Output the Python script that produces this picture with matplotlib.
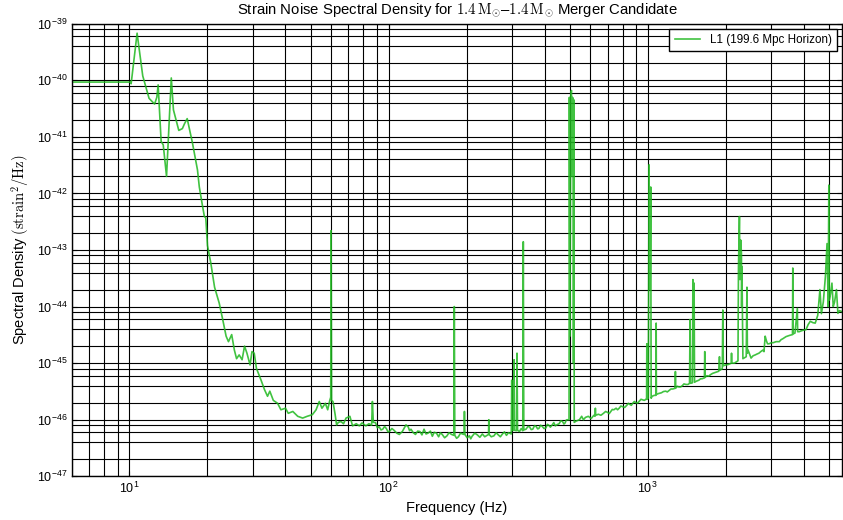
import numpy as np
import matplotlib
matplotlib.use("Agg")
import matplotlib.pyplot as plt
from matplotlib.ticker import FixedLocator, NullFormatter

plt.rcParams['font.family'] = ['Liberation Sans', 'DejaVu Sans']
plt.rcParams['mathtext.fontset'] = 'cm'

# ---- data (frequency in Hz, PSD in strain^2/Hz) ----
freq_low = [6.0, 10.1, 10.15, 10.7, 11.25, 11.9, 12.5, 12.75, 12.9, 13.25, 13.5, 13.9,
            14.5, 14.78, 15.5, 16.0, 16.3, 16.7, 17.5, 18.3, 18.6, 19.1, 19.46, 19.7,
            20.0, 20.6, 21.3, 22.2, 22.9, 23.6, 24.1, 24.8, 25.4, 25.9, 26.5, 27.2,
            27.8, 28.4, 29.2, 29.7, 30.3, 30.9, 32.2, 33.2, 34.1, 34.8, 35.9, 37.3,
            38.4, 40.0, 41.0, 42.7, 44.6, 46.6, 48.5, 50.8, 52.5, 54.0, 55.3, 57.0,
            58.2, 59.3, 59.8, 60.0, 60.25, 61.0, 62.2, 63.0, 64.0, 65.5, 67.0, 68.5]
psd_low = [9.3e-41, 9.3e-41, 8.7e-41, 6.8e-40, 1.2e-40, 4.8e-41, 3.8e-41, 5.0e-41, 8.3e-41,
           8.3e-42, 7.2e-42, 2.0e-42, 1.1e-40, 3.0e-41, 1.3e-41, 1.4e-41, 1.7e-41, 2.1e-41,
           7.8e-42, 2.6e-42, 1.3e-42, 6.3e-43, 3.9e-43, 3.7e-43, 1.2e-43, 5.9e-44, 2.2e-44,
           1.15e-44, 5.9e-45, 3.0e-45, 2.4e-45, 3.2e-45, 1.7e-45, 1.2e-45, 1.4e-45, 1.15e-45,
           2.0e-45, 1.5e-45, 9.3e-46, 1.6e-45, 1.5e-45, 8.1e-46, 5.0e-46, 3.4e-46, 2.6e-46,
           3.2e-46, 2.2e-46, 1.95e-46, 1.5e-46, 1.6e-46, 1.3e-46, 1.4e-46, 1.15e-46, 1.07e-46,
           1.15e-46, 1.23e-46, 1.5e-46, 2.1e-46, 1.6e-46, 1.95e-46, 1.5e-46, 2.2e-46, 2.5e-46,
           2.2e-43, 2.2e-46, 2.1e-46, 1.23e-46, 8.1e-47, 9.0e-47, 9.3e-47, 8.5e-47, 1.07e-46]

freq_mid = [70.9, 72.6, 75.0, 77.1, 79.0, 81.7, 84.0, 86.0, 86.6, 87.3, 89.0, 90.5, 92.0,
            93.5, 94.9, 96.5, 98.0, 99.5, 101.0, 103.0, 105.0, 107.5, 110.0, 113.0, 115.0,
            116.7, 119.0, 120.5, 122.0, 124.5, 127.0, 129.5, 132.0, 134.5, 137.0, 139.5,
            142.0, 145.0, 147.5, 150.0, 153.0, 156.0, 158.5, 161.0, 164.5, 168.0, 171.0,
            175.0, 178.5, 179.3, 180.1, 183.0, 186.0, 189.5, 193.0, 195.5, 196.2, 197.0,
            201.0, 205.0, 207.5, 210.0, 215.0, 220.0, 225.0, 230.0, 235.0, 240.0, 243.0,
            243.6, 244.3, 249.0, 255.0, 260.0, 265.0, 270.0, 275.0, 280.0, 285.0, 290.0,
            297.5, 298.7, 300.0, 304.0, 305.0, 306.0, 311.5, 313.0, 314.5, 320.0, 325.0,
            329.5, 331.0, 332.5, 339.0, 345.0, 350.0, 355.0, 360.0, 366.0, 371.0, 376.0,
            380.0, 386.0, 392.0, 398.0, 405.0, 410.0, 415.0, 421.0, 428.0, 434.0, 440.0,
            447.0, 455.0, 462.0, 469.0, 475.0, 480.0, 485.0, 490.0, 497.0]
psd_mid = [1.15e-46, 7.8e-47, 8.5e-47, 7.8e-47, 8.8e-47, 7.8e-47, 8.5e-47, 8.0e-47, 2.1e-46,
           9.0e-47, 8.9e-47, 7.2e-47, 7.5e-47, 6.6e-47, 6.8e-47, 7.6e-47, 7.0e-47, 6.1e-47,
           6.3e-47, 7.0e-47, 6.5e-47, 5.8e-47, 5.5e-47, 6.2e-47, 7.2e-47, 8.1e-47, 7.5e-47,
           6.4e-47, 6.8e-47, 5.9e-47, 5.5e-47, 6.3e-47, 6.2e-47, 5.4e-47, 6.8e-47, 5.6e-47,
           5.8e-47, 6.3e-47, 5.1e-47, 6.0e-47, 5.8e-47, 5.0e-47, 5.9e-47, 5.5e-47, 4.8e-47,
           5.2e-47, 5.9e-47, 5.5e-47, 5.3e-47, 1.0e-44, 5.3e-47, 4.7e-47, 5.0e-47, 5.8e-47,
           5.6e-47, 5.5e-47, 1.4e-46, 5.5e-47, 4.8e-47, 5.2e-47, 4.6e-47, 5.1e-47, 5.8e-47,
           5.4e-47, 4.9e-47, 5.6e-47, 5.0e-47, 5.3e-47, 5.5e-47, 1.0e-46, 5.5e-47, 5.0e-47,
           5.2e-47, 5.9e-47, 5.4e-47, 5.0e-47, 5.6e-47, 6.1e-47, 5.3e-47, 5.9e-47, 5.6e-47,
           5.0e-46, 6.5e-47, 6.5e-47, 1.15e-45, 6.5e-47, 6.4e-47, 1.5e-45, 6.5e-47, 6.2e-47,
           7.0e-47, 6.4e-47, 1.4e-43, 6.6e-47, 6.8e-47, 7.6e-47, 7.5e-47, 6.7e-47, 6.8e-47,
           7.9e-47, 7.6e-47, 6.9e-47, 7.0e-47, 8.0e-47, 7.6e-47, 7.0e-47, 7.2e-47, 8.3e-47,
           8.0e-47, 7.4e-47, 8.1e-47, 8.9e-47, 7.8e-47, 8.2e-47, 8.5e-47, 9.6e-47, 9.3e-47,
           8.4e-47, 8.8e-47, 9.9e-47, 1.0e-46, 1.0e-46]

freq_violin = [498.5, 501.0, 505.0, 508.0, 510.0, 512.0, 515.0, 517.0, 519.0, 520.5]
psd_violin = [5.0e-41, 3.0e-45, 6.0e-41, 6.6e-41, 2.0e-42, 5.0e-41, 4.8e-41, 1.0e-45, 4.5e-41, 9.0e-47]

freq_high = [530, 545, 556, 565, 575, 590, 605, 620, 626, 628, 630, 645, 660, 675, 688, 700,
             710, 720, 730, 740, 755, 765, 776, 788, 800, 815, 830, 842, 855, 865, 875, 888,
             900, 915, 930, 942, 955, 970, 985, 990, 992, 995, 1005,
             1008, 1012, 1017, 1022, 1027, 1031, 1040, 1060, 1076, 1078, 1080, 1100, 1130,
             1150, 1173, 1190, 1210, 1230, 1250, 1277, 1279, 1281, 1300, 1320, 1340, 1360,
             1380, 1405, 1430, 1450, 1457, 1463, 1488,
             1494, 1500, 1510, 1516, 1540, 1575, 1600, 1620, 1655, 1660, 1665, 1690, 1720,
             1750, 1780, 1830,
             1880, 1892, 1900, 1940, 1949, 1958, 2000, 2050, 2100, 2106, 2112, 2160, 2230,
             2240, 2259, 2270, 2285, 2300, 2303, 2310, 2330, 2400, 2415, 2425, 2440, 2505,
             2550, 2600, 2640, 2686, 2730, 2780, 2810, 2840, 2870, 2900, 2940, 3000, 3050,
             3130, 3220, 3270, 3320, 3420, 3530,
             3620, 3630, 3640, 3700, 3780, 3790, 3840, 3960, 4080, 4160, 4240, 4340, 4430,
             4530, 4620, 4680, 4760, 4850, 4920, 4970, 5000, 5020, 5080, 5140, 5200, 5260,
             5350, 5420, 5500, 5620]
psd_high = [9.5e-47, 1.0e-46, 1.15e-46, 1.0e-46, 1.1e-46, 1.15e-46, 1.05e-46, 1.2e-46, 1.15e-46,
            1.6e-46, 1.2e-46, 1.25e-46, 1.2e-46, 1.3e-46, 1.4e-46, 1.35e-46, 1.28e-46, 1.4e-46,
            1.52e-46, 1.5e-46, 1.6e-46, 1.5e-46, 1.6e-46, 1.75e-46, 1.7e-46, 1.65e-46, 1.8e-46,
            1.95e-46, 1.85e-46, 1.8e-46, 1.95e-46, 2.1e-46, 2.0e-46, 1.98e-46, 2.15e-46,
            2.3e-46, 2.25e-46, 2.2e-46, 2.3e-46,
            2.3e-46, 2.2e-45, 2.3e-46, 2.4e-46, 2.0e-44, 3.2e-42, 5.0e-44, 2.0e-44, 1.3e-42,
            2.4e-46, 2.6e-46, 2.7e-46, 2.7e-46, 5.1e-45, 2.8e-46, 2.9e-46, 3.0e-46, 3.15e-46,
            3.2e-46, 3.1e-46, 3.3e-46, 3.5e-46, 3.5e-46, 3.6e-46, 7.1e-46, 3.6e-46, 3.9e-46,
            3.8e-46, 3.8e-46, 4.0e-46, 4.3e-46, 4.2e-46, 4.2e-46, 4.4e-46,
            5.9e-45, 4.4e-46, 4.5e-46, 3.0e-44, 1.0e-45, 2.6e-44, 4.6e-46, 4.8e-46, 5.0e-46,
            5.3e-46, 5.3e-46, 5.5e-46, 1.6e-45, 5.6e-46, 6.0e-46, 5.9e-46, 6.3e-46, 6.6e-46,
            6.9e-46, 7.2e-46, 1.3e-45,
            7.5e-46, 8.0e-46, 8.7e-45, 9.0e-46, 9.3e-46, 9.5e-46, 1.0e-45, 1.5e-45, 1.0e-45,
            1.0e-45, 1.1e-45, 5.0e-44, 3.9e-43, 3.0e-44, 1.5e-43, 8.7e-44, 1.0e-44, 5.1e-44,
            1.2e-45, 1.3e-45, 2.2e-44, 1.5e-45, 1.7e-45, 1.23e-45, 1.35e-45, 1.4e-45, 1.45e-45,
            1.5e-45, 1.6e-45, 1.7e-45, 1.6e-45, 3.0e-45, 2.5e-45, 2.2e-45, 2.2e-45, 2.3e-45,
            2.3e-45, 2.4e-45, 2.4e-45, 2.6e-45, 2.7e-45, 2.95e-45, 3.1e-45,
            3.2e-45, 4.8e-44, 3.3e-45, 3.4e-45, 9.3e-45, 3.6e-45, 3.6e-45, 3.8e-45,
            3.9e-45, 4.8e-45, 5.5e-45, 5.2e-45, 5.1e-45, 7.0e-45, 2.0e-44, 7.5e-45, 1.2e-44,
            3.4e-44, 1.3e-43, 1.0e-44, 1.4e-42, 1.3e-44, 1.7e-44, 2.6e-44, 1.0e-44, 1.2e-44,
            2.0e-44, 7.6e-45, 8.5e-45, 8.1e-45]

title_text = r"Strain Noise Spectral Density for $1.4\,\mathrm{M}_{\odot}$–$1.4\,\mathrm{M}_{\odot}$ Merger Candidate"
legend_label = "L1 (199.6 Mpc Horizon)"
x_label = "Frequency (Hz)"
y_label = r"Spectral Density $(\mathrm{strain}^2/\mathrm{Hz})$"

freq = np.concatenate([freq_low, freq_mid, freq_violin, freq_high])
psd = np.concatenate([psd_low, psd_mid, psd_violin, psd_high])

xlim = (6, 5620)
ylim = (1e-47, 1e-39)

fig = plt.figure(figsize=(8.43, 5.2), dpi=100)
ax = fig.add_axes([0.0854, 0.084, 0.9134, 0.8704])
ax.set_axisbelow(True)
ax.loglog(freq, psd, color=(0.12, 0.72, 0.12), alpha=0.85, lw=1.2, label=legend_label)

ax.set_xlim(*xlim)
ax.set_ylim(*ylim)

# tick positions restricted to the visible range
x_major = 10.0 ** np.arange(1, 4)
x_minor = np.array([m * 10.0 ** e for e in range(0, 4) for m in range(2, 10)])
x_minor = x_minor[(x_minor >= xlim[0]) & (x_minor <= xlim[1])]
y_major = 10.0 ** np.arange(-47, -38)
y_minor = np.array([m * 10.0 ** e for e in range(-47, -39) for m in (2, 4, 6, 8)])

ax.xaxis.set_major_locator(FixedLocator(x_major))
ax.xaxis.set_minor_locator(FixedLocator(x_minor))
ax.yaxis.set_major_locator(FixedLocator(y_major))
ax.yaxis.set_minor_locator(FixedLocator(y_minor))
ax.xaxis.set_minor_formatter(NullFormatter())
ax.yaxis.set_minor_formatter(NullFormatter())

ax.grid(True, which='both', color='black', linestyle='-', linewidth=0.8)
ax.tick_params(which='both', direction='in', top=True, right=True, labelsize=9)
for s in ax.spines.values():
    s.set_linewidth(1.0)

ax.set_title(title_text, fontsize=10.7, pad=7)
ax.set_xlabel(x_label, fontsize=10.5, labelpad=3)
ax.set_ylabel(y_label, fontsize=10.5)

leg = ax.legend(loc='upper right', fontsize=8.4, fancybox=False, framealpha=1,
                edgecolor='black', borderaxespad=0.45, handlelength=2.2, borderpad=0.45)
leg.get_frame().set_linewidth(1.0)

fig.savefig("out.png", dpi=100)
